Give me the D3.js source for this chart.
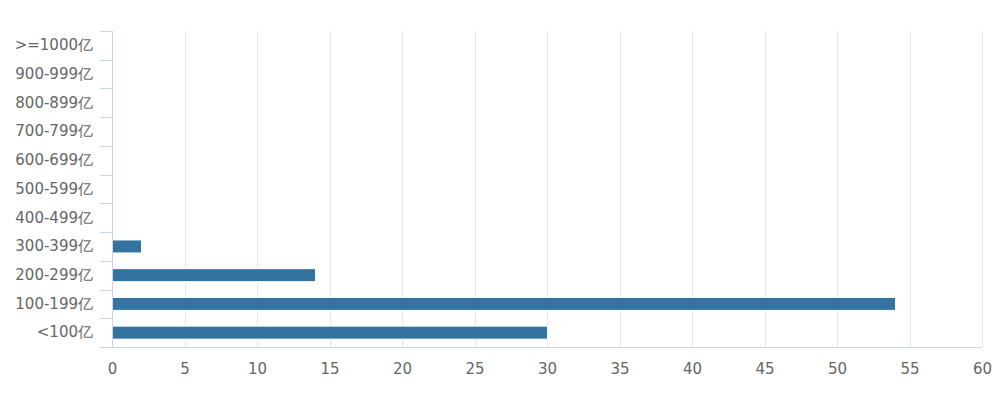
<!DOCTYPE html>
<html><head><meta charset="utf-8">
<script src="https://cdn.jsdelivr.net/npm/d3@7"></script>
<style>body{margin:0;background:#fff}svg{display:block}</style>
</head><body>
<svg id="c" width="1000" height="394"></svg>
<script>
const categories = [">=1000亿","900-999亿","800-899亿","700-799亿","600-699亿","500-599亿","400-499亿","300-399亿","200-299亿","100-199亿","<100亿"];
const values = [0,0,0,0,0,0,0,2,14,54,30];
const xTicks = [0,5,10,15,20,25,30,35,40,45,50,55,60];

const svg = d3.select("#c");
const m = {left:112, right:982, top:31, bottom:347};
const x = d3.scaleLinear().domain([0,60]).range([m.left, m.right]);
const y = d3.scaleBand().domain(categories).range([m.top, m.bottom]).paddingInner(0).paddingOuter(0);
const font = "'DejaVu Sans', sans-serif";

// gridlines
svg.append("g").selectAll("line").data(xTicks.slice(1)).join("line")
  .attr("x1", d=>Math.round(x(d))+0.5).attr("x2", d=>Math.round(x(d))+0.5)
  .attr("y1", m.top).attr("y2", m.bottom)
  .attr("stroke", "#e6e6e6").attr("stroke-width", 1);

// bars
const bh = 13;
svg.append("g").selectAll("rect").data(categories.map((c,i)=>({c, v:values[i]})).filter(d=>d.v>0)).join("rect")
  .attr("x", x(0)+0.5).attr("y", d=>y(d.c)+y.bandwidth()/2-bh/2)
  .attr("width", d=>x(d.v)-x(0)).attr("height", bh)
  .attr("fill", "#34739f").attr("stroke", "#fff").attr("stroke-width", 1);

// x axis
const xa = svg.append("g").attr("transform", `translate(0,${m.bottom})`)
  .call(d3.axisBottom(x).tickValues(xTicks).tickSize(0).tickPadding(16));
xa.select(".domain").attr("stroke", "#ccd6eb").attr("d", `M${m.left},0.5H${m.right}`);
xa.selectAll("text").attr("fill", "#666").style("font-family", font).style("font-size", "15px");

// y axis
const ya = svg.append("g").attr("transform", `translate(${m.left},0)`)
  .call(d3.axisLeft(y).tickSize(0).tickPadding(19));
ya.select(".domain").attr("stroke", "#ccd6eb").attr("d", `M0.5,${m.top}V${m.bottom}`);
ya.selectAll("text").attr("fill", "#666").style("font-family", font).style("font-size", "15px");
// category boundary ticks
const bounds = categories.map(c=>y(c)).concat([m.bottom]);
ya.append("g").selectAll("line").data(bounds).join("line")
  .attr("x1", -12).attr("x2", 0).attr("y1", d=>Math.round(d)+0.5).attr("y2", d=>Math.round(d)+0.5)
  .attr("stroke", "#ccd6eb");
</script>
</body></html>
